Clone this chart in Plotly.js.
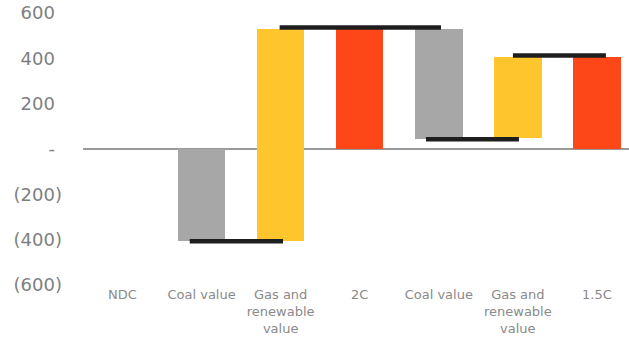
<!DOCTYPE html>
<html>
<head>
<meta charset="utf-8">
<script src="https://cdn.plot.ly/plotly-3.0.1.min.js"></script>
<style>html,body{margin:0;padding:0;background:#fff;}#chart{width:629px;height:347px;}</style>
</head>
<body>
<div id="chart"></div>
<script>
// Categories (x axis)
var categories = ['NDC', 'Coal value', 'Gas and<br>renewable<br>value', '2C', 'Coal value', 'Gas and<br>renewable<br>value', '1.5C'];
// Floating bars: bottom and top of each bar
var barBottom = [0, -407, -407, 0, 42, 48, 0];
var barTop    = [0, 0, 528, 528, 528, 408, 408];
var barKind   = ['total', 'coal', 'gas', 'total', 'coal', 'gas', 'total'];
// Connector lines: from category index, to category index, level
var connFrom  = [1, 2, 4, 5];
var connTo    = [2, 4, 5, 6];
var connLevel = [-407, 536, 43, 412];
// Y tick values
var yTicks = [600, 400, 200, 0, -200, -400, -600];

// styles
var kindColor = {total: '#fe4719', coal: '#a7a7a7', gas: '#ffc52c'};
var connStartOff = [-0.15, -0.013, -0.162, -0.062];
var connEndOff = [0.03, 0.028, 0.014, 0.114];

var xIdx = categories.map(function (c, i) { return i; });
var traces = [{
  type: 'bar',
  x: xIdx,
  base: barBottom,
  y: barTop.map(function (t, i) { return t - barBottom[i]; }),
  width: 0.6,
  marker: {color: barKind.map(function (k) { return kindColor[k]; })},
  hoverinfo: 'skip'
}];
connFrom.forEach(function (f, i) {
  traces.push({
    type: 'scatter', mode: 'lines',
    x: [f + connStartOff[i], connTo[i] + connEndOff[i]],
    y: [connLevel[i], connLevel[i]],
    line: {color: '#1e1e1e', width: 4.5},
    hoverinfo: 'skip'
  });
});

var hidden = '<span style="color:rgba(0,0,0,0)">)</span>';
var yText = yTicks.map(function (v) {
  if (v === 0) return '-' + hidden;
  if (v < 0) return '(' + Math.abs(v) + ')';
  return v + hidden;
});

var layout = {
  width: 629, height: 347,
  margin: {l: 83.4, r: 0, t: 13.3, b: 62},
  paper_bgcolor: '#fff', plot_bgcolor: '#fff',
  showlegend: false,
  bargap: 0,
  font: {family: 'DejaVu Sans', color: '#808080'},
  xaxis: {
    range: [-0.5, 6.406],
    tickvals: xIdx, ticktext: categories,
    showgrid: false, zeroline: false, showline: false, ticks: '',
    tickfont: {size: 13, color: '#8a8a8a'},
    fixedrange: true
  },
  yaxis: {
    range: [-600, 600],
    tickvals: yTicks, ticktext: yText,
    showgrid: false, zeroline: true, zerolinecolor: '#9a9a9a', zerolinewidth: 1.5,
    showline: false, ticks: '',
    ticklabelstandoff: 20,
    tickfont: {size: 18, color: '#7f7f7f'},
    fixedrange: true
  }
};

Plotly.newPlot('chart', traces, layout, {displayModeBar: false, staticPlot: true});
</script>
</body>
</html>
